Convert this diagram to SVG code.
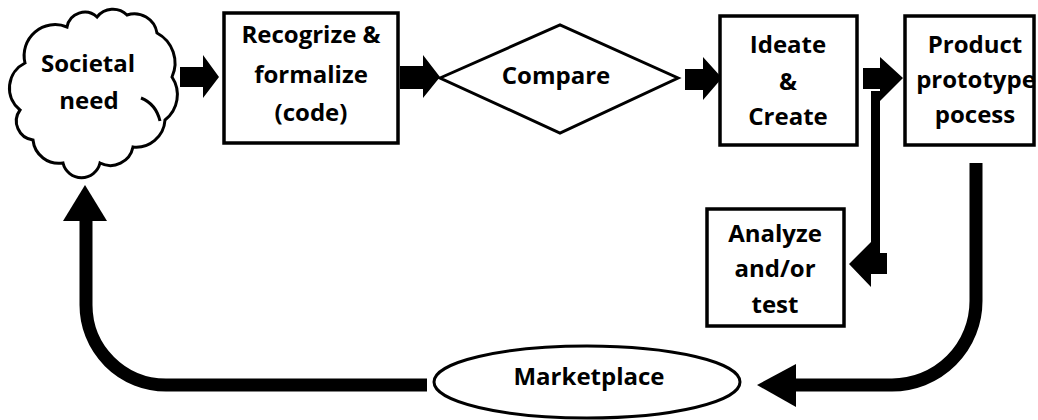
<svg xmlns="http://www.w3.org/2000/svg" width="1038" height="420" viewBox="0 0 1038 420">
<style>
.box{fill:#fff;stroke:#000;stroke-width:3.5}
.shape{fill:#fff;stroke:#000;stroke-width:3}
.t{font-family:"Open Sans","Liberation Sans",sans-serif;font-weight:bold;font-size:24px;fill:#000;text-anchor:middle}
.thick{fill:none;stroke:#000;stroke-width:13}
.blk{fill:#000}
</style>
<rect width="1038" height="420" fill="#fff"/>
<g id="connectors">
<polygon class="blk" points="180,67 203,67 203,55 219,77 203,98 203,87 180,87"/>
<polygon class="blk" points="400,66 423,66 423,55 440,77 423,98 423,89 400,89"/>
<polygon class="blk" points="685,69 703,69 703,57 722,78 703,100 703,90 685,90"/>
<polygon class="blk" points="863,68 880,68 880,57 903,78 880,101 880,89 863,89"/>
<polygon class="blk" points="871,91 880,91 880,253 887,253 887,274 871,274 871,287 849,264 871,242"/>
<path class="thick" d="M976 163 V301 A84 84 0 0 1 892 385 H793"/>
<polygon class="blk" points="796,364 757,385 796,407"/>
<path class="thick" d="M427 385 H166 A80 80 0 0 1 86 305 V218"/>
<polygon class="blk" points="63,221 85,185 107,221"/>
</g>
<g id="societal">
<path class="shape" d="M25 63 A31 31 0 0 1 67 27 A18 18 0 0 1 97 17 A20 20 0 0 1 127 15 A23 23 0 0 1 157 33 A34 34 0 0 1 172 77 A32 32 0 0 1 165 120 A29 29 0 0 1 133 147 A23 23 0 0 1 100 163 A19 19 0 0 1 63 163 A26 26 0 0 1 33 140 A19 19 0 0 1 20 110 A28 28 0 0 1 25 63 Z"/>
<path d="M141 98 Q156 104 160 121" fill="none" stroke="#000" stroke-width="3"/>
<text class="t" x="88" y="72">Societal</text>
<text class="t" x="89" y="109">need</text>
</g>
<g id="recognize">
<rect class="box" x="224" y="13" width="174" height="130"/>
<text class="t" x="311" y="43">Recogrize &amp;</text>
<text class="t" x="311" y="83">formalize</text>
<text class="t" x="311" y="121">(code)</text>
</g>
<g id="compare">
<polygon class="shape" points="440,78 560,25 678,78 560,133"/>
<text class="t" x="556" y="84">Compare</text>
</g>
<g id="ideate">
<rect class="box" x="720" y="16" width="137" height="129"/>
<text class="t" x="788" y="53">Ideate</text>
<text class="t" x="788" y="90">&amp;</text>
<text class="t" x="788" y="125">Create</text>
</g>
<g id="product">
<rect class="box" x="905" y="16" width="129" height="129"/>
<text class="t" x="975" y="53">Product</text>
<text class="t" x="976" y="88">prototype</text>
<text class="t" x="975" y="123">pocess</text>
</g>
<g id="analyze">
<rect class="box" x="707" y="209" width="137" height="117"/>
<text class="t" x="775" y="242">Analyze</text>
<text class="t" x="775" y="277">and/or</text>
<text class="t" x="775" y="313">test</text>
</g>
<g id="marketplace">
<ellipse class="shape" cx="587" cy="382" rx="153" ry="36"/>
<text class="t" x="589" y="385">Marketplace</text>
</g>
</svg>
